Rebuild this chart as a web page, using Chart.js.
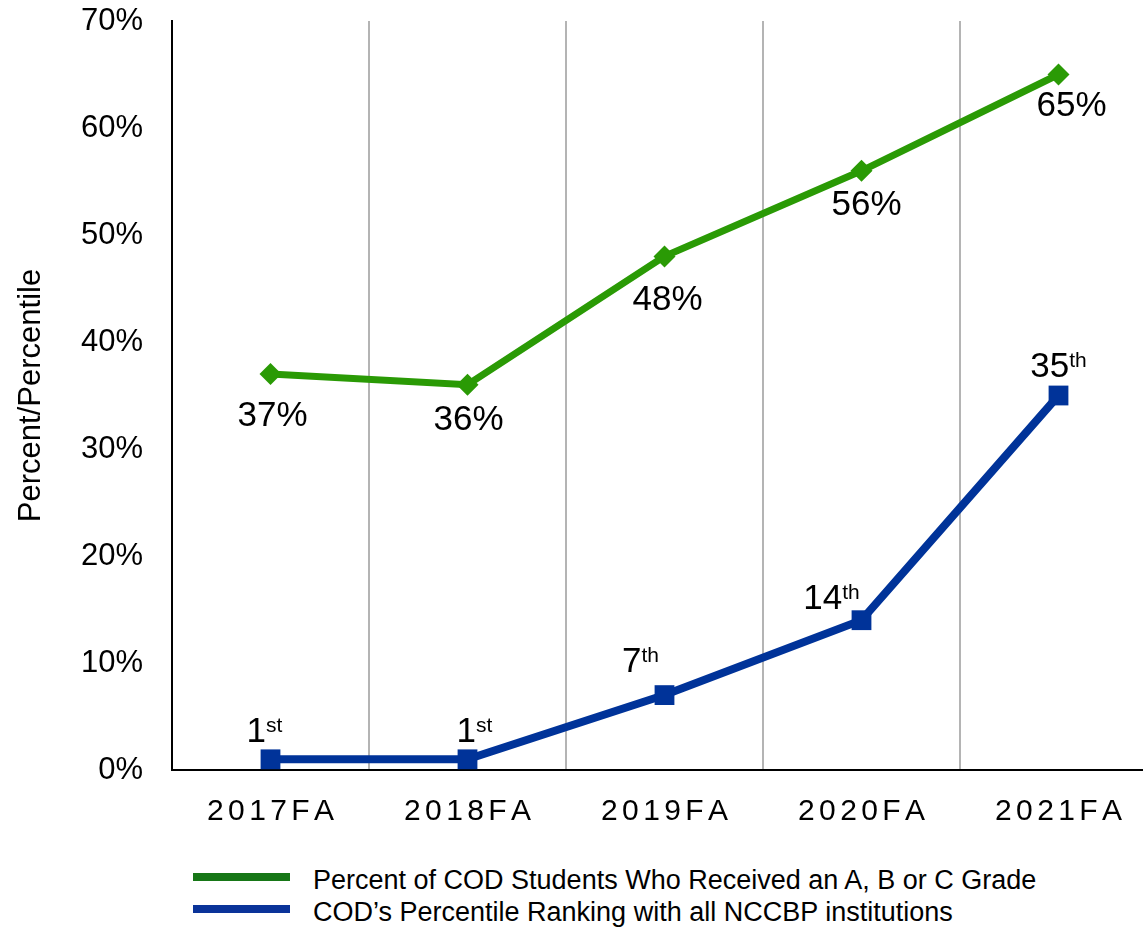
<!DOCTYPE html>
<html>
<head>
<meta charset="utf-8">
<script src="https://cdn.jsdelivr.net/npm/chart.js@4"></script>
<style>
  html, body { margin:0; padding:0; background:#fff; overflow:hidden; }
  #wrap { position:absolute; left:0; top:0; width:1171px; height:840px; }
  .leg { position:absolute; left:0; font-family:"Liberation Sans", Arial, sans-serif; font-size:27px; line-height:32px; color:#000; white-space:nowrap; }
  .leg .ln { position:absolute; left:193px; width:97px; height:8px; }
  .leg .tx { position:absolute; left:313px; }
</style>
</head>
<body>
<div id="wrap"><canvas id="lineChart" width="1171" height="840"></canvas></div>
<div class="leg" style="top:864px;width:1143px;height:32px">
  <span class="ln" style="top:9px;background:#177717"></span>
  <span class="tx">Percent of COD Students Who Received an A, B or C Grade</span>
</div>
<div class="leg" style="top:896px;width:1143px;height:32px">
  <span class="ln" style="top:9px;background:#0a3399"></span>
  <span class="tx">COD’s Percentile Ranking with all NCCBP institutions</span>
</div>
<script>
var years = ['2017FA', '2018FA', '2019FA', '2020FA', '2021FA'];
var gradePct = [37, 36, 48, 56, 65];          // percent A/B/C
var rankPct = [1, 1, 7, 14, 35];              // percentile ranking
var rankSuffix = ['st', 'st', 'th', 'th', 'th'];
var yTicks = [0, 10, 20, 30, 40, 50, 60, 70];

var FONT = '"Liberation Sans", Arial, sans-serif';

// label nudges (px), like the hand placed labels in the original
var greenNudge = { dx:[2, 1, 3, 5, 13], dy:[52, 45, 54, 44, 41] };
var blueNudge = { dx:[-6, 7, -24, -30, 0], dy:[17, 17, 23, 11, 19] };

var labelPlugin = {
    id:'pointLabels',
    afterDatasetsDraw:function(chart){
        var ctx = chart.ctx;
        ctx.save();
        ctx.fillStyle = '#000';
        ctx.textBaseline = 'alphabetic';
        // green: percent below the point
        var m0 = chart.getDatasetMeta(0);
        m0.data.forEach(function(pt, i){
            ctx.font = '35px ' + FONT;
            ctx.textAlign = 'center';
            ctx.fillText(gradePct[i] + '%', pt.x + greenNudge.dx[i], pt.y + greenNudge.dy[i]);
        });
        // blue: ordinal above the point
        var m1 = chart.getDatasetMeta(1);
        m1.data.forEach(function(pt, i){
            var num = String(rankPct[i]);
            var suf = rankSuffix[i];
            ctx.font = '35px ' + FONT;
            var wn = ctx.measureText(num).width;
            ctx.font = '21px ' + FONT;
            var ws = ctx.measureText(suf).width;
            var x0 = pt.x + blueNudge.dx[i] - (wn + ws) / 2;
            var by = pt.y - blueNudge.dy[i];
            ctx.textAlign = 'left';
            ctx.font = '35px ' + FONT;
            ctx.fillText(num, x0, by);
            ctx.font = '21px ' + FONT;
            ctx.fillText(suf, x0 + wn, by - 10);
        });
        ctx.restore();
    },
    afterDraw:function(chart){
        // category labels with wide letter spacing
        var ctx = chart.ctx;
        var xs = chart.scales.x;
        ctx.save();
        ctx.fillStyle = '#000';
        ctx.font = '30px ' + FONT;
        ctx.textAlign = 'left';
        ctx.textBaseline = 'alphabetic';
        var gap = 4.4;
        years.forEach(function(lab, i){
            var chars = lab.split('');
            var total = 0;
            chars.forEach(function(c){ total += ctx.measureText(c).width; });
            total += gap * (chars.length - 1);
            var x = xs.getPixelForTick(i) - total / 2;
            chars.forEach(function(c){
                ctx.fillText(c, x, chart.chartArea.bottom + 50);
                x += ctx.measureText(c).width + gap;
            });
        });
        ctx.restore();
    }
};

var lineChart = new Chart(document.getElementById('lineChart'), {
    type:'line',
    data:{
        labels:years,
        datasets:[{
            label:'Percent of COD Students Who Received an A, B or C Grade',
            data:gradePct,
            borderColor:'#2a9a05',
            backgroundColor:'#2a9a05',
            borderWidth:7,
            pointStyle:'rectRot',
            pointRadius:11,
            pointHoverRadius:11,
            pointBorderWidth:0,
            tension:0
        }, {
            label:'COD’s Percentile Ranking with all NCCBP institutions',
            data:rankPct,
            borderColor:'#003399',
            backgroundColor:'#003399',
            borderWidth:8,
            pointStyle:'rect',
            pointRadius:14,
            pointHoverRadius:14,
            pointBorderWidth:0,
            tension:0
        }]
    },
    options:{
        responsive:false,
        animation:false,
        devicePixelRatio:1,
        layout:{ padding:{ top:21, right:4, bottom:0, left:0 } },
        plugins:{
            legend:{ display:false },
            tooltip:{ enabled:false }
        },
        scales:{
            x:{
                offset:true,
                grid:{
                    offset:true,
                    drawTicks:false,
                    lineWidth:2,
                    color:function(c){ return c.index === 0 ? 'rgba(0,0,0,0)' : '#b4b4b4'; }
                },
                border:{ display:true, color:'#000', width:2 },
                ticks:{ display:false },
                afterFit:function(scale){
                    scale.height = 70;
                    scale.paddingLeft = 0;
                    scale.paddingRight = 0;
                }
            },
            y:{
                min:0,
                max:70,
                afterBuildTicks:function(scale){
                    scale.ticks = yTicks.map(function(v){ return { value:v }; });
                },
                grid:{ display:false, drawTicks:false },
                border:{ display:true, color:'#000', width:2 },
                ticks:{
                    color:'#000',
                    padding:29,
                    font:{ family:FONT, size:31 },
                    callback:function(v){ return v + '%'; }
                },
                title:{
                    display:true,
                    text:'Percent/Percentile',
                    color:'#000',
                    font:{ family:FONT, size:31 },
                    padding:{ top:13, bottom:0 }
                },
                afterFit:function(scale){
                    scale.width = 172;
                    scale.paddingTop = 0;
                    scale.paddingBottom = 0;
                }
            }
        }
    },
    plugins:[labelPlugin]
});
</script>
</body>
</html>
